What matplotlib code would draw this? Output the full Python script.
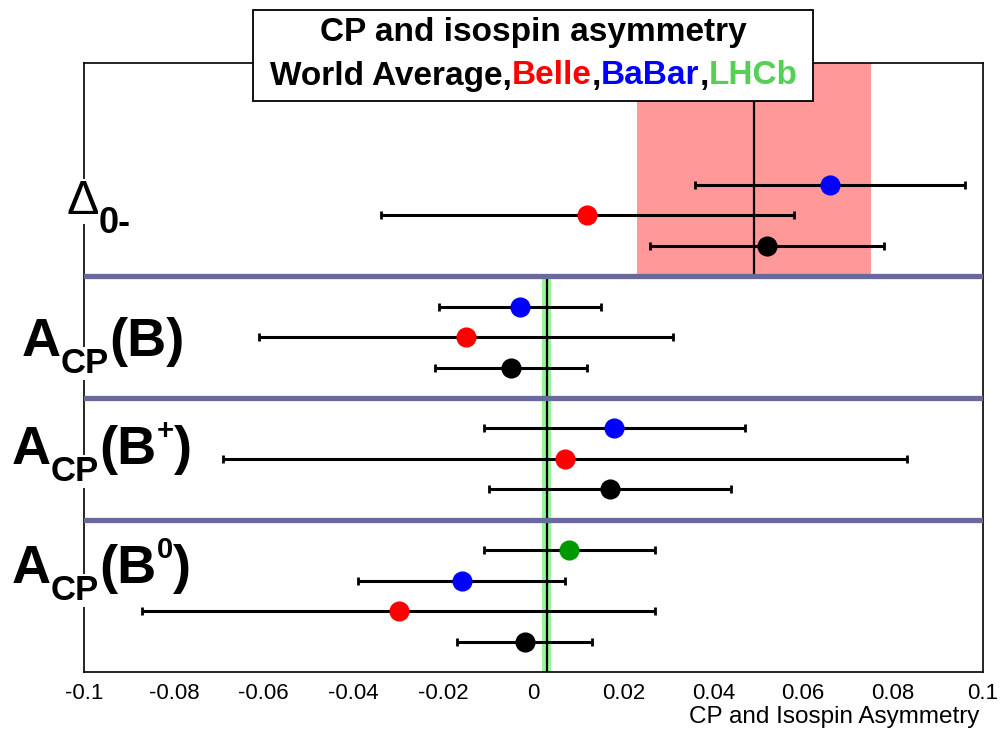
import matplotlib
matplotlib.use("Agg")
import matplotlib.pyplot as plt
from matplotlib.patches import Rectangle

plt.rcParams['font.family'] = ['Liberation Sans', 'DejaVu Sans']

# ---------------- data ----------------
wa_values = [0.052, -0.005, 0.017, -0.002]
wa_errors = [0.026, 0.017, 0.027, 0.015]
belle_values = [0.012, -0.015, 0.007, -0.030]
belle_errors = [0.046, 0.046, 0.076, 0.057]
babar_values = [0.066, -0.003, 0.018, -0.016]
babar_errors = [0.030, 0.018, 0.029, 0.023]
lhcb_values = [0.008]          # only A_CP(B0)
lhcb_errors = [0.019]

# row positions (y) of each measurement
wa_rows = [14, 10, 6, 1]
belle_rows = [15, 11, 7, 2]
babar_rows = [16, 12, 8, 3]
lhcb_rows = [4]
separators = [5, 9, 13]

delta_band = (0.023, 0.075)
delta_line = 0.049
acp_band = (0.002, 0.004)
acp_line = 0.003

xticks = [-0.1, -0.08, -0.06, -0.04, -0.02, 0, 0.02, 0.04, 0.06, 0.08, 0.1]
xtick_labels = ['-0.1', '-0.08', '-0.06', '-0.04', '-0.02', '0', '0.02', '0.04', '0.06', '0.08', '0.1']

title_line1 = 'CP and isospin asymmetry'
title_pieces = [('World Average,', 'black'), ('Belle', '#FF0000'), (',', 'black'),
                ('BaBar', '#0000FF'), (',', 'black'), ('LHCb', '#55D055')]
xlabel = 'CP and Isospin Asymmetry'

# group labels: pieces of (text, fontsize, weight, baseline shift in px)
group_labels = [
    [('Δ', 35, 'normal', 0), ('0-', 26, 'bold', 19)],
    [('A', 39, 'bold', 0), ('CP', 25, 'bold', 17), ('(B)', 39, 'bold', 0)],
    [('A', 39, 'bold', 0), ('CP', 25, 'bold', 17), ('(B', 39, 'bold', 0),
     ('+', 21, 'bold', -25), (')', 39, 'bold', 0)],
    [('A', 39, 'bold', 0), ('CP', 25, 'bold', 17), ('(B', 39, 'bold', 0),
     ('0', 21, 'bold', -25), (')', 39, 'bold', 0)],
]
label_origin = [(66, 214), (22, 356), (12, 464), (12, 583)]  # px: left x, baseline y

# ---------------- figure ----------------
W, H = 1003, 733
fig = plt.figure(figsize=(W / 100, H / 100), dpi=100)
ax = fig.add_axes([84 / W, 1 - 672 / H, (983 - 84) / W, (672 - 63) / H])
ax.set_xlim(-0.1, 0.1)
ax.set_ylim(0, 20)

# bands and lines
ax.fill_betweenx([13, 20], delta_band[0], delta_band[1], color='#FF9999', lw=0, zorder=1)
ax.plot([delta_line, delta_line], [13, 20], color='black', lw=1.6, zorder=2)
ax.fill_betweenx([0, 13], acp_band[0], acp_band[1], color='#99F599', lw=0, zorder=1)
ax.plot([acp_line, acp_line], [0, 13], color='black', lw=1.6, zorder=2)

for s in separators:
    ax.axhline(s, color='#6A6A9A', lw=3.8, zorder=3)

ekw = dict(fmt='o', ms=13.5, ecolor='black', elinewidth=2.2, capsize=2.6, capthick=2.0, zorder=5)
ax.errorbar(wa_values, wa_rows, xerr=wa_errors, color='black', **ekw)
ax.errorbar(belle_values, belle_rows, xerr=belle_errors, color='#FF0000', **ekw)
ax.errorbar(babar_values, babar_rows, xerr=babar_errors, color='#0000FF', **ekw)
ax.errorbar(lhcb_values, lhcb_rows, xerr=lhcb_errors, color='#009900', **ekw)

ax.set_xticks(xticks)
ax.set_xticklabels(xtick_labels, fontsize=16)
ax.tick_params(axis='x', length=0, pad=8)
ax.set_yticks([])
for sp in ax.spines.values():
    sp.set_linewidth(1.2)

fig.text(979 / W, 1 - 717 / H, xlabel, ha='right', va='center', fontsize=17.5)

renderer = fig.canvas.get_renderer()

# group labels on the left, composed piece by piece
for pieces, (x0, yb) in zip(group_labels, label_origin):
    x = x0
    for s, fs, fw, dy in pieces:
        t = fig.text(x / W, 1 - (yb + dy) / H, s, ha='left', va='baseline', fontsize=fs,
                     fontweight=fw, zorder=10,
                     bbox=dict(facecolor='white', edgecolor='none', pad=0))
        x += t.get_window_extent(renderer).width

# title box
box = Rectangle((253 / W, 1 - 101 / H), 560 / W, 91 / H, transform=fig.transFigure,
                facecolor='white', edgecolor='black', lw=1.3, zorder=20)
fig.patches.append(box)
fig.text(533 / W, 1 - 33 / H, title_line1, ha='center', va='center',
         fontsize=24, fontweight='bold', zorder=21)

texts = []
total = 0
for s, c in title_pieces:
    t = fig.text(0, 1 - 76 / H, s, ha='left', va='center', fontsize=24, fontweight='bold',
                 color=c, zorder=21)
    w = t.get_window_extent(renderer).width
    texts.append((t, w))
    total += w
x = 534 - total / 2
for t, w in texts:
    t.set_x(x / W)
    x += w

fig.savefig('out.png', dpi=100)
